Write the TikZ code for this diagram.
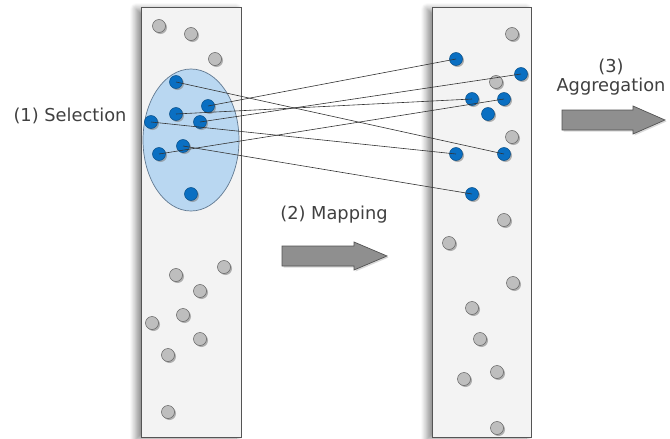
\documentclass[tikz,border=0pt]{standalone}
\usepackage{fontspec}
\setmainfont{DejaVu Sans}
\usetikzlibrary{shadows,shadows.blur}
\definecolor{paper}{HTML}{F3F3F3}
\definecolor{frame}{HTML}{555555}
\definecolor{lens}{HTML}{B9D7F1}
\definecolor{lensedge}{HTML}{607890}
\definecolor{pickblue}{HTML}{0A6FC2}
\definecolor{pebble}{HTML}{BEBEBE}
\definecolor{ink}{HTML}{404040}
\definecolor{shaft}{HTML}{8F8F8F}

\begin{document}
\begin{tikzpicture}[x=1pt, y=-1pt,
  lane/.style={draw=frame, fill=paper, line width=0.8pt,
               blur shadow={shadow xshift=-5pt, shadow yshift=-2pt, shadow blur radius=6pt,
                            shadow blur steps=10, shadow opacity=45}},
  lens/.style={draw=lensedge, fill=lens, line width=0.7pt},
  dot/.style={circle, inner sep=0pt, minimum size=13pt, fill=pebble, draw=gray!75!black,
              line width=0.5pt, drop shadow={shadow xshift=1.5pt, shadow yshift=-1.5pt, opacity=0.6}},
  pick/.style={dot, fill=pickblue, draw=pickblue!70!black},
  link/.style={draw=black!80, line width=0.6pt},
  flow/.style={fill=shaft, draw=gray!65!black, line width=0.7pt,
               drop shadow={shadow xshift=1.5pt, shadow yshift=-1.5pt, opacity=0.3}},
  label/.style={text=ink, font=\fontsize{17.8}{19}\selectfont, align=center}
]
\useasboundingbox (0,0) rectangle (670,439);

% the two columns
\path[lane] (141,7) rectangle (241,437);
\path[lane] (432,7) rectangle (531,437);

% selected region
\path[lens] (191,140) ellipse [x radius=48, y radius=71];

% plain points
\foreach \p in {{159,26},{191,34},{215,59},{224,267},{176,275},{200,291},
                {183,315},{152,323},{200,339},{168,355},{168,412},
                {512,34},{496,82},{512,137},{504,220},{449,243},{513,283},
                {472,308},{480,339},{497,372},{464,379},{497,428}}
  \node[dot] at (\p) {};

% selected points and their images
\foreach \n/\p in {a1/{176,82}, a2/{208,106}, a3/{176,114}, a4/{200,122},
                   a5/{151,122}, a6/{183,146}, a7/{159,154}, a8/{191,194},
                   b1/{456,59}, b2/{521,74}, b3/{472,99}, b4/{504,99},
                   b5/{488,114}, b6/{456,154}, b7/{504,154}, b8/{472,194}}
  \node[pick] (\n) at (\p) {};

\draw[link] (a1.center) -- (b7.center);
\draw[link] (a2.center) -- (b1.center);
\draw[link] (a3.center) -- (b3.center);
\draw[link] (a4.center) -- (b2.center);
\draw[link] (a5.center) -- (b6.center);
\draw[link] (a6.center) -- (b8.center);
\draw[link] (a7.center) -- (b4.center);

% block arrows
\path[flow] (282,246) -- (354,246) -- (354,242) -- (387,256) -- (354,270) -- (354,266) -- (282,266) -- cycle;
\path[flow] (562,110) -- (633,110) -- (633,106) -- (665,120) -- (633,134) -- (633,130) -- (562,130) -- cycle;

% step labels
\node[label] (select) at (70,116) {(1) Selection};
\node[label] (map) at (334,215) {(2) Mapping};
\node[label] (aggr) at (611,77) {(3)\\Aggregation};
\end{tikzpicture}
\end{document}
